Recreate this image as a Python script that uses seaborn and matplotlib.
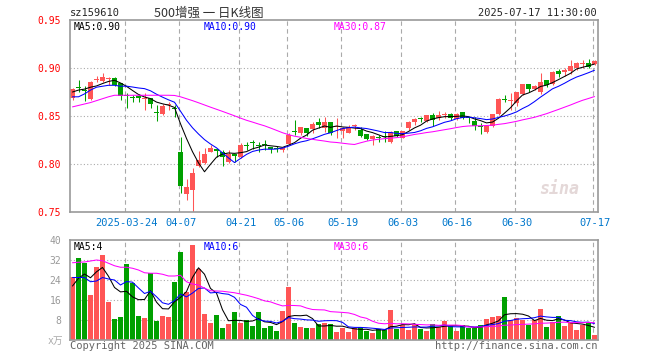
import numpy as np
import pandas as pd
import seaborn as sns
import matplotlib.pyplot as plt

sns.set_style("white")
plt.rcParams['font.family'] = ['DejaVu Sans Mono', 'Noto Sans CJK SC']

# 88 trading days, 2025-03-11 .. 2025-07-17
holidays = ['2025-04-04', '2025-05-01', '2025-05-02', '2025-05-05', '2025-06-02']
dates = [d for d in pd.bdate_range('2025-03-11', '2025-07-17') if d.strftime('%Y-%m-%d') not in holidays]

open_ = [0.869, 0.8795, 0.8765, 0.868, 0.888, 0.886, 0.889, 0.890, 0.884, 0.8715,
         0.8695, 0.8705, 0.868, 0.869, 0.8535, 0.852, 0.861, 0.8575, 0.8125, 0.769,
         0.7733, 0.798, 0.801, 0.813, 0.8157, 0.812, 0.802, 0.810, 0.8077, 0.8200,
         0.8220, 0.819, 0.8202, 0.8175, 0.8160, 0.815, 0.8205, 0.8335, 0.832, 0.838,
         0.8365, 0.844, 0.837, 0.8434, 0.8385, 0.834, 0.832, 0.8395, 0.8355, 0.831,
         0.826, 0.8280, 0.8288, 0.8226, 0.8344, 0.8275, 0.838, 0.844, 0.8474, 0.8448,
         0.851, 0.8476, 0.8515, 0.852, 0.847, 0.8538, 0.8479, 0.8448, 0.8394, 0.833,
         0.840, 0.852, 0.8668, 0.866, 0.8632, 0.8726, 0.883, 0.878, 0.8747, 0.8875,
         0.883, 0.8972, 0.8955, 0.897, 0.8997, 0.9045, 0.905, 0.9038]
high = [0.879, 0.8875, 0.881, 0.886, 0.892, 0.895, 0.8905, 0.8905, 0.884, 0.874,
        0.872, 0.873, 0.874, 0.869, 0.861, 0.862, 0.865, 0.861, 0.8285, 0.784,
        0.7955, 0.8135, 0.8165, 0.820, 0.8158, 0.815, 0.8147, 0.810, 0.8216, 0.8226,
        0.825, 0.8226, 0.825, 0.818, 0.819, 0.818, 0.832, 0.846, 0.839, 0.838,
        0.844, 0.8476, 0.8493, 0.8434, 0.848, 0.839, 0.8405, 0.8415, 0.839, 0.831,
        0.830, 0.830, 0.8345, 0.8345, 0.8344, 0.8344, 0.8448, 0.8476, 0.8493, 0.851,
        0.8535, 0.8552, 0.8545, 0.853, 0.853, 0.8538, 0.8493, 0.8493, 0.8424, 0.840,
        0.852, 0.8684, 0.872, 0.8736, 0.8754, 0.883, 0.883, 0.8823, 0.8944, 0.8875,
        0.8969, 0.899, 0.8997, 0.908, 0.9066, 0.908, 0.9094, 0.908]
low = [0.867, 0.875, 0.866, 0.867, 0.885, 0.885, 0.882, 0.881, 0.867, 0.858,
       0.865, 0.865, 0.856, 0.858, 0.845, 0.851, 0.856, 0.849, 0.770, 0.763,
       0.750, 0.797, 0.800, 0.812, 0.8077, 0.7983, 0.801, 0.802, 0.8067, 0.8146,
       0.816, 0.813, 0.8146, 0.811, 0.8125, 0.813, 0.8198, 0.830, 0.830, 0.8295,
       0.832, 0.837, 0.8337, 0.830, 0.8275, 0.8275, 0.832, 0.8355, 0.8285, 0.825,
       0.820, 0.8226, 0.8226, 0.822, 0.8285, 0.827, 0.8355, 0.8407, 0.8441, 0.844,
       0.840, 0.846, 0.8483, 0.846, 0.846, 0.847, 0.8424, 0.8355, 0.831, 0.832,
       0.839, 0.851, 0.865, 0.856, 0.860, 0.872, 0.8754, 0.877, 0.8726, 0.8806,
       0.8823, 0.891, 0.892, 0.8938, 0.898, 0.8997, 0.8997, 0.903]
close = [0.878, 0.879, 0.876, 0.885, 0.8885, 0.8905, 0.890, 0.882, 0.871, 0.871,
         0.869, 0.869, 0.869, 0.8625, 0.853, 0.860, 0.862, 0.857, 0.7775, 0.7765,
         0.791, 0.804, 0.8105, 0.8165, 0.8135, 0.807, 0.810, 0.8084, 0.820, 0.819,
         0.8216, 0.8185, 0.8198, 0.816, 0.8156, 0.8166, 0.830, 0.833, 0.839, 0.832,
         0.842, 0.841, 0.844, 0.832, 0.839, 0.837, 0.839, 0.840, 0.8296, 0.826,
         0.829, 0.8275, 0.8283, 0.833, 0.8296, 0.8344, 0.844, 0.847, 0.847, 0.851,
         0.8455, 0.851, 0.852, 0.8476, 0.852, 0.8476, 0.8475, 0.840, 0.839, 0.840,
         0.852, 0.8674, 0.8665, 0.867, 0.8754, 0.883, 0.878, 0.8816, 0.8858, 0.8823,
         0.8962, 0.8937, 0.898, 0.902, 0.905, 0.905, 0.9014, 0.9073]
volume = [25.3, 32.9, 30.9, 18.0, 29.3, 34.0, 15.3, 8.4, 9.2, 30.5,
          22.8, 9.7, 8.8, 26.7, 7.7, 9.7, 9.2, 23.3, 35.3, 19.3,
          38.1, 28.4, 10.4, 6.9, 10.0, 4.8, 6.4, 11.2, 6.8, 8.0,
          5.6, 11.2, 4.8, 5.6, 3.6, 11.6, 21.3, 6.8, 5.2, 4.8,
          4.8, 6.4, 6.8, 6.4, 3.2, 4.9, 3.2, 4.7, 5.1, 3.6,
          2.8, 4.3, 3.9, 12.0, 4.5, 6.1, 4.0, 6.0, 4.4, 3.6,
          6.4, 5.3, 7.7, 5.5, 3.6, 5.9, 4.9, 4.9, 6.0, 8.5,
          9.2, 9.6, 17.2, 8.0, 8.8, 8.0, 6.0, 8.0, 12.4, 5.2,
          7.2, 9.6, 5.6, 6.7, 4.0, 5.9, 6.8, 2.0]

# moving-average values before a full window exists
ma5_head = [0.875, 0.877, 0.878, 0.880]
ma10_head = [0.870, 0.870, 0.873, 0.877, 0.880, 0.881, 0.882, 0.882, 0.881]
ma30_head = [0.8595, 0.861, 0.8625, 0.864, 0.866, 0.868, 0.870, 0.8716, 0.8716, 0.8716,
             0.8716, 0.8716, 0.8716, 0.8716, 0.8716, 0.8716, 0.8716, 0.8714, 0.8700, 0.8680,
             0.8660, 0.8638, 0.8615, 0.8592, 0.8570, 0.8548, 0.8525, 0.8502, 0.8478]
vma5_head = [21.6, 24.7, 26.4, 24.9]
vma10_head = [25.0, 25.0, 25.0, 23.3, 23.6, 25.0, 24.4, 24.0, 22.0]
vma30_head = [30.9, 31.1, 31.2, 31.6, 32.0, 31.7, 30.7, 29.7, 29.1, 29.1,
              28.7, 28.0, 26.9, 26.7, 26.7, 26.3, 25.6, 25.6, 25.9, 23.3,
              22.4, 22.0, 20.7, 19.7, 19.6, 19.5, 19.2, 18.9, 18.4]

tick_dates = ['2025-03-24', '2025-04-07', '2025-04-21', '2025-05-06', '2025-05-19',
              '2025-06-03', '2025-06-16', '2025-06-30', '2025-07-17']
tick_labels = ['2025-03-24', '04-07', '04-21', '05-06', '05-19', '06-03', '06-16', '06-30', '07-17']


def moving(values, n, head):
    s = pd.Series(values).rolling(n).mean()
    s.iloc[:n - 1] = head
    return s.values


df = pd.DataFrame({'open': open_, 'high': high, 'low': low, 'close': close, 'vol': volume})
df['x'] = np.arange(len(df))
df['ma5'] = moving(close, 5, ma5_head)
df['ma10'] = moving(close, 10, ma10_head)
df['ma30'] = moving(close, 30, ma30_head)
df['vma5'] = moving(volume, 5, vma5_head)
df['vma10'] = moving(volume, 10, vma10_head)
df['vma30'] = moving(volume, 30, vma30_head)

RED, GREEN = '#ff5555', '#00a000'
cols = np.where(df['close'] >= df['open'], RED, GREEN)
date_str = [d.strftime('%Y-%m-%d') for d in dates]
tick_pos = [date_str.index(t) for t in tick_dates]

fig = plt.figure(figsize=(6.6, 3.6), dpi=100)
ax = fig.add_axes([69.5 / 660, 1 - 212 / 360, 528 / 660, 192 / 360])
axv = fig.add_axes([69.5 / 660, 1 - 340 / 360, 528 / 660, 100 / 360])

# price candles
body = np.maximum((df['close'] - df['open']).abs(), 0.001)
ax.vlines(df['x'], df['low'], df['high'], colors=cols, linewidth=0.75)
ax.bar(df['x'], body, bottom=np.minimum(df['open'], df['close']), width=0.74,
       color=cols, linewidth=0)
for c, col in [('ma5', 'black'), ('ma10', '#0000ff'), ('ma30', '#ff00ff')]:
    sns.lineplot(data=df, x='x', y=c, ax=ax, color=col, linewidth=0.75)

# volume
axv.bar(df['x'], df['vol'], width=0.82, color=cols, linewidth=0)
for c, col in [('vma5', 'black'), ('vma10', '#0000ff'), ('vma30', '#ff00ff')]:
    sns.lineplot(data=df, x='x', y=c, ax=axv, color=col, linewidth=0.75)

for a in (ax, axv):
    a.set_xlim(-0.5, len(df) - 0.5)
    a.set_xlabel('')
    a.set_ylabel('')
    for p in tick_pos:
        a.axvline(p - 0.2, color='#aaaaaa', linewidth=0.8, linestyle=(0, (4, 3)), zorder=0)
    for s in a.spines.values():
        s.set_color('#999999')
        s.set_linewidth(1.2)

ax.set_ylim(0.75, 0.95)
ax.set_yticks([0.75, 0.80, 0.85, 0.90, 0.95])
ax.set_yticklabels(['%.2f' % v for v in [0.75, 0.80, 0.85, 0.90, 0.95]])
ax.tick_params(axis='y', colors='#ff0000', length=0, pad=6, labelsize=7)
for v in [0.80, 0.85, 0.90]:
    ax.axhline(v, color='#aaaaaa', linewidth=0.8, linestyle=(0, (1, 2)), zorder=0)
ax.set_xticks(tick_pos)
ax.set_xticklabels(tick_labels)
ax.tick_params(axis='x', colors='#0077cc', length=0, pad=4, labelsize=7.5)

axv.set_ylim(0, 40)
axv.set_yticks([8, 16, 24, 32, 40])
axv.tick_params(axis='y', colors='#999999', length=0, pad=6, labelsize=7)
for v in [8, 16, 24, 32]:
    axv.axhline(v, color='#aaaaaa', linewidth=0.8, linestyle=(0, (1, 2)), zorder=0)
axv.set_xticks([])

# header and legends
fig.text(70 / 660, 1 - 13 / 360, 'sz159610', fontsize=7.5, va='center', ha='left')
fig.text(209 / 660, 1 - 13 / 360, '500增强 一 日K线图', fontsize=9, va='center', ha='center',
         color='#333333', family=['Noto Sans CJK SC', 'DejaVu Sans'])
fig.text(597 / 660, 1 - 13 / 360, '2025-07-17 11:30:00', fontsize=7.5, va='center', ha='right')

for a, labels, yy in [(ax, ['MA5:0.90', 'MA10:0.90', 'MA30:0.87'], 27),
                      (axv, ['MA5:4', 'MA10:6', 'MA30:6'], 247)]:
    for xx, txt, col in zip([74, 204, 334], labels, ['black', '#0000ff', '#ff00ff']):
        fig.text(xx / 660, 1 - yy / 360, txt, fontsize=7, color=col, va='center', ha='left')

ax.text(0.965, 0.12, 'sina', transform=ax.transAxes, fontsize=12, style='italic',
        fontweight='bold', color='#e4d8d8', ha='right', va='center', zorder=0)
fig.text(48 / 660, 1 - 341 / 360, 'x万', fontsize=7, color='#aaaaaa', va='center', ha='left')
fig.text(70 / 660, 1 - 346 / 360, 'Copyright 2025 SINA.COM', fontsize=7.5, color='#666666',
         va='center', ha='left')
fig.text(597 / 660, 1 - 346 / 360, 'http://finance.sina.com.cn', fontsize=7.5, color='#666666',
         va='center', ha='right')

fig.savefig('out.png', dpi=100)
